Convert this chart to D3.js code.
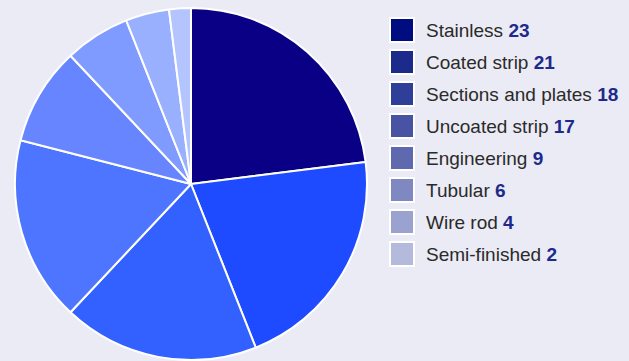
<!DOCTYPE html>
<html>
<head>
<meta charset="utf-8">
<script src="https://cdn.jsdelivr.net/npm/d3@7"></script>
<style>
  body { margin: 0; background: #ebebf5; }
  svg { display: block; }
</style>
</head>
<body>
<svg id="chart" width="629" height="361"></svg>
<script>
// DATA
const categories = ["Stainless", "Coated strip", "Sections and plates", "Uncoated strip",
  "Engineering", "Tubular", "Wire rod", "Semi-finished"];
const shares = [23, 21, 18, 17, 9, 6, 4, 2];
const pieColors = ["#0a0085", "#1e4bff", "#3361ff", "#4d75ff", "#6685ff", "#809bff", "#99b0ff", "#b3c4ff"];
const legendColors = ["#000d80", "#1c2a8c", "#2f3f99", "#4853a4", "#5e69b0", "#7f88c0", "#9aa3cf", "#b3badc"];

const svg = d3.select("#chart");
const cx = 191, cy = 184, r = 176;

const data = categories.map((c, i) => ({ name: c, value: shares[i] }));

const pie = d3.pie().value((d) => d.value).sort(null);
const arc = d3.arc().innerRadius(0).outerRadius(r);

const gp = svg.append("g").attr("transform", `translate(${cx},${cy})`);

gp.selectAll("path")
  .data(pie(data))
  .join("path")
  .attr("d", arc)
  .attr("fill", (d, i) => pieColors[i])
  .attr("stroke", "#ffffff")
  .attr("stroke-width", 2)
  .attr("stroke-linejoin", "round");

// LEGEND
const y = d3.scaleBand().domain(categories).range([14, 270]).paddingInner(0);
const gl = svg.append("g").attr("transform", "translate(389,0)");

const row = gl.selectAll("g")
  .data(data)
  .join("g")
  .attr("transform", (d) => `translate(0,${y(d.name) + y.bandwidth() / 2})`);

row.append("rect")
  .attr("x", 1).attr("y", -12)
  .attr("width", 24).attr("height", 24)
  .attr("fill", (d, i) => legendColors[i])
  .attr("stroke", "#ffffff")
  .attr("stroke-width", 2);

const txt = row.append("text")
  .attr("x", 37)
  .attr("dy", "0.36em")
  .style("font-family", "'Liberation Sans', Arial, sans-serif")
  .style("font-size", "19px");

txt.append("tspan").attr("fill", "#2a2a2a").text((d) => d.name + " ");
txt.append("tspan").attr("fill", "#1c2a8c").style("font-weight", "bold").text((d) => d.value);
</script>
</body>
</html>
